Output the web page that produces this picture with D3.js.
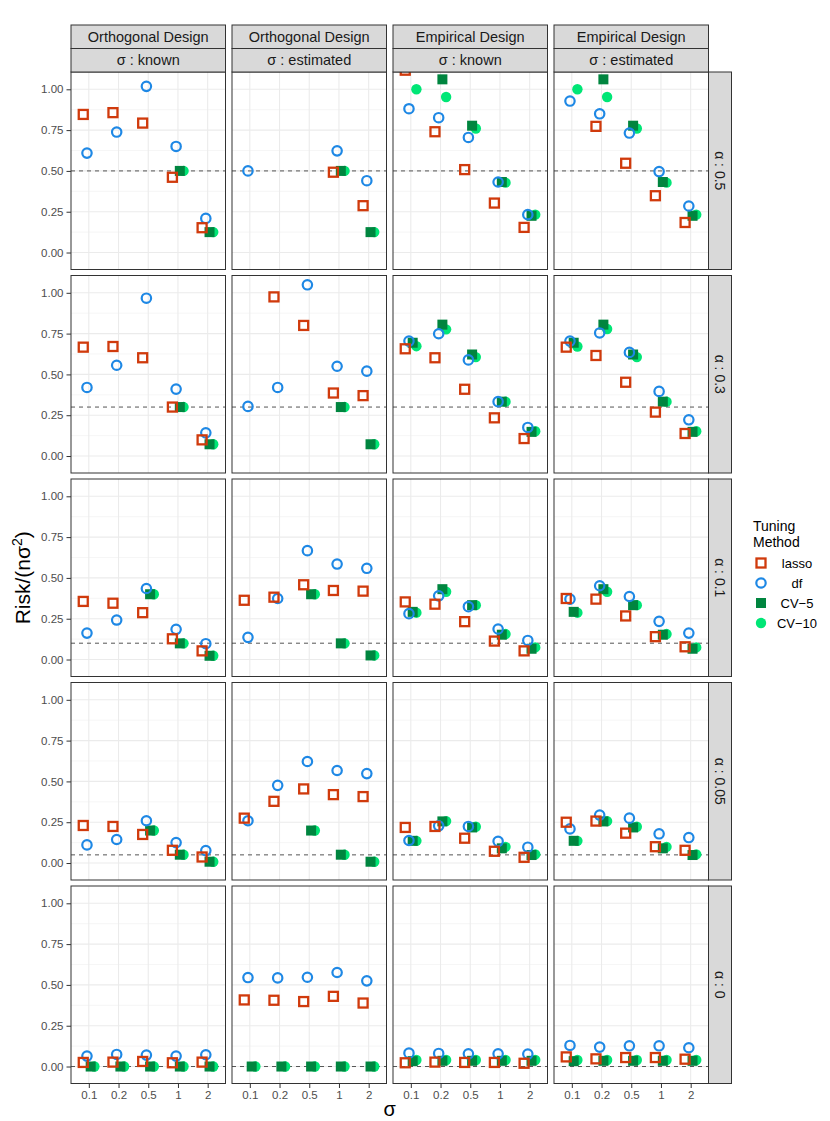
<!DOCTYPE html>
<html>
<head>
<meta charset="utf-8">
<script src="https://cdn.jsdelivr.net/npm/d3@7"></script>
<style>
  body { margin: 0; background: #fff; }
  svg { font-family: "Liberation Sans", Arial, sans-serif; }
</style>
</head>
<body>
<svg id="chart" width="830" height="1121"></svg>
<script>
// facets and categories
const sigmas = ["0.1", "0.2", "0.5", "1", "2"];
const designs = ["Orthogonal Design", "Orthogonal Design", "Empirical Design", "Empirical Design"];
const sigmaModes = ["known", "estimated", "known", "estimated"];
const alphas = [0.5, 0.3, 0.1, 0.05, 0];
const methods = ["lasso", "df", "CV-5", "CV-10"];
const yTicks = [0, 0.25, 0.5, 0.75, 1];

// risk values, one row per panel (alpha row, then 4 columns), null = off the chart
const lasso = [
  [0.846, 0.857, 0.793, 0.461, 0.152], [null, null, null, 0.492, 0.287], [1.117, 0.740, 0.508, 0.303, 0.154], [null, 0.773, 0.547, 0.348, 0.184],
  [0.667, 0.671, 0.602, 0.300, 0.099], [null, 0.975, 0.800, 0.386, 0.370], [0.657, 0.602, 0.409, 0.234, 0.107], [0.667, 0.616, 0.452, 0.269, 0.138],
  [0.356, 0.345, 0.287, 0.127, 0.053], [0.363, 0.382, 0.458, 0.423, 0.419], [0.353, 0.339, 0.232, 0.113, 0.053], [0.374, 0.370, 0.267, 0.140, 0.078],
  [0.230, 0.224, 0.175, 0.078, 0.037], [0.275, 0.378, 0.454, 0.419, 0.407], [0.218, 0.224, 0.152, 0.072, 0.035], [0.250, 0.257, 0.183, 0.100, 0.078],
  [0.025, 0.027, 0.031, 0.023, 0.027], [0.408, 0.406, 0.398, 0.430, 0.389], [0.023, 0.027, 0.025, 0.025, 0.020], [0.059, 0.047, 0.055, 0.055, 0.045]
];
const df = [
  [0.609, 0.738, 1.018, 0.650, 0.209], [0.500, null, null, 0.623, 0.440], [0.881, 0.826, 0.705, 0.432, 0.232], [0.928, 0.850, 0.732, 0.496, 0.285],
  [0.420, 0.556, 0.967, 0.410, 0.142], [0.304, 0.420, 1.049, 0.550, 0.520], [0.704, 0.749, 0.589, 0.333, 0.175], [0.704, 0.754, 0.635, 0.396, 0.222],
  [0.162, 0.242, 0.435, 0.185, 0.097], [0.136, 0.374, 0.667, 0.585, 0.559], [0.281, 0.390, 0.324, 0.187, 0.117], [0.370, 0.452, 0.386, 0.234, 0.162],
  [0.111, 0.144, 0.259, 0.125, 0.076], [0.259, 0.476, 0.622, 0.567, 0.548], [0.138, 0.228, 0.224, 0.133, 0.097], [0.209, 0.294, 0.275, 0.179, 0.156],
  [0.064, 0.074, 0.070, 0.064, 0.072], [0.545, 0.543, 0.547, 0.576, 0.525], [0.082, 0.080, 0.078, 0.078, 0.076], [0.129, 0.119, 0.127, 0.127, 0.115]
];
const cv5 = [
  [null, null, null, 0.500, 0.125], [null, null, null, 0.500, 0.125], [null, 1.061, 0.777, 0.432, 0.225], [null, 1.061, 0.777, 0.432, 0.225],
  [null, null, null, 0.300, 0.072], [null, null, null, 0.300, 0.072], [0.694, 0.805, 0.622, 0.333, 0.148], [0.694, 0.805, 0.622, 0.333, 0.148],
  [null, null, 0.400, 0.099, 0.023], [null, null, 0.400, 0.099, 0.025], [0.292, 0.431, 0.333, 0.152, 0.066], [0.292, 0.431, 0.333, 0.152, 0.066],
  [null, null, 0.199, 0.051, 0.008], [null, null, 0.199, 0.051, 0.008], [0.136, 0.255, 0.218, 0.090, 0.049], [0.136, 0.255, 0.218, 0.090, 0.049],
  [0, 0, 0, 0, 0], [0, 0, 0, 0, 0], [0.033, 0.035, 0.035, 0.035, 0.035], [0.033, 0.035, 0.035, 0.035, 0.035]
];
const cv10 = [
  [null, null, null, 0.500, 0.125], [null, null, null, 0.500, 0.125], [1.000, 0.953, 0.760, 0.428, 0.232], [1.000, 0.953, 0.760, 0.428, 0.232],
  [null, null, null, 0.300, 0.072], [null, null, null, 0.300, 0.072], [0.673, 0.776, 0.606, 0.333, 0.152], [0.671, 0.778, 0.606, 0.333, 0.152],
  [null, null, 0.400, 0.099, 0.023], [null, null, 0.400, 0.099, 0.025], [0.287, 0.415, 0.333, 0.156, 0.074], [0.287, 0.415, 0.333, 0.156, 0.074],
  [null, null, 0.199, 0.051, 0.008], [null, null, 0.199, 0.051, 0.008], [0.136, 0.257, 0.222, 0.099, 0.053], [0.136, 0.257, 0.222, 0.099, 0.053],
  [0, 0, 0, 0, 0], [0, 0, 0, 0, 0], [0.040, 0.040, 0.040, 0.040, 0.040], [0.040, 0.040, 0.040, 0.040, 0.040]
];

const series = { "lasso": lasso, "df": df, "CV-5": cv5, "CV-10": cv10 };
const colors = { "lasso": "#D03A0C", "df": "#1E88E5", "CV-5": "#00853F", "CV-10": "#00E676" };

const svg = d3.select("#chart");
const marginLeft = 71, marginTop = 72, panelW = 154.5, panelH = 197.5, colPitch = 161, rowPitch = 203.5;
const stripTop = 25, stripH = 23.5, rightStripW = 23;

const x = d3.scalePoint().domain(sigmas).range([0, panelW]).padding(0.6);
const y = d3.scaleLinear().domain([-0.104, 1.106]).range([panelH, 0]);
const dodge = d3.scalePoint().domain(methods).range([-0.1875, 0.1875]);
const minor = [0.125, 0.375, 0.625, 0.875];

function drawShape(g, method, cx, cy) {
  const c = colors[method];
  if (method === "lasso") {
    const s = 9;
    g.append("rect").attr("x", cx - s / 2).attr("y", cy - s / 2).attr("width", s).attr("height", s)
      .attr("fill", "none").attr("stroke", c).attr("stroke-width", 2.3);
  } else if (method === "df") {
    g.append("circle").attr("cx", cx).attr("cy", cy).attr("r", 4.7)
      .attr("fill", "none").attr("stroke", c).attr("stroke-width", 2.2);
  } else if (method === "CV-5") {
    const s = 10;
    g.append("rect").attr("x", cx - s / 2).attr("y", cy - s / 2).attr("width", s).attr("height", s).attr("fill", c);
  } else {
    g.append("circle").attr("cx", cx).attr("cy", cy).attr("r", 5.2).attr("fill", c);
  }
}

alphas.forEach((alpha, r) => {
  designs.forEach((design, c) => {
    const px = marginLeft + c * colPitch, py = marginTop + r * rowPitch;
    const g = svg.append("g").attr("transform", `translate(${px},${py})`);
    const id = `clip-${r}-${c}`;
    g.append("clipPath").attr("id", id).append("rect").attr("width", panelW).attr("height", panelH);

    g.append("rect").attr("width", panelW).attr("height", panelH).attr("fill", "#fff");
    g.selectAll(".minor").data(minor).join("line")
      .attr("x1", 0).attr("x2", panelW).attr("y1", d => y(d)).attr("y2", d => y(d))
      .attr("stroke", "#F0F0F0").attr("stroke-width", 0.6);
    g.selectAll(".major").data(yTicks).join("line")
      .attr("x1", 0).attr("x2", panelW).attr("y1", d => y(d)).attr("y2", d => y(d))
      .attr("stroke", "#EBEBEB").attr("stroke-width", 1.1);
    g.selectAll(".vmajor").data(sigmas).join("line")
      .attr("x1", d => x(d)).attr("x2", d => x(d)).attr("y1", 0).attr("y2", panelH)
      .attr("stroke", "#EBEBEB").attr("stroke-width", 1.1);

    g.append("line").attr("x1", 0).attr("x2", panelW).attr("y1", y(alpha)).attr("y2", y(alpha))
      .attr("stroke", "#555").attr("stroke-width", 1).attr("stroke-dasharray", "4,4");

    const pts = g.append("g").attr("clip-path", `url(#${id})`);
    const idx = r * 4 + c;
    // later methods are drawn underneath
    methods.slice().reverse().forEach(m => {
      series[m][idx].forEach((v, i) => {
        if (v === null) return;
        drawShape(pts, m, x(sigmas[i]) + dodge(m) * x.step(), y(v));
      });
    });

    g.append("rect").attr("width", panelW).attr("height", panelH)
      .attr("fill", "none").attr("stroke", "#333").attr("stroke-width", 1);

    if (c === 0) {
      const ax = g.append("g").call(d3.axisLeft(y).tickValues(yTicks).tickFormat(d3.format(".2f")).tickSize(4.5).tickPadding(3));
      ax.select(".domain").remove();
      ax.selectAll("line").attr("stroke", "#333");
      ax.selectAll("text").attr("fill", "#4D4D4D").style("font-size", "11.5px").style("font-family", "Liberation Sans, Arial, sans-serif");
    }
    if (r === alphas.length - 1) {
      const ax = g.append("g").attr("transform", `translate(0,${panelH})`)
        .call(d3.axisBottom(x).tickSize(4.5).tickPadding(3));
      ax.select(".domain").remove();
      ax.selectAll("line").attr("stroke", "#333");
      ax.selectAll("text").attr("fill", "#4D4D4D").style("font-size", "11.5px").style("font-family", "Liberation Sans, Arial, sans-serif");
    }
    if (r === 0) {
      [design, "σ : " + sigmaModes[c]].forEach((t, k) => {
        const sy = stripTop + k * stripH - py;
        g.append("rect").attr("x", 0).attr("y", sy).attr("width", panelW).attr("height", stripH)
          .attr("fill", "#D9D9D9").attr("stroke", "#333").attr("stroke-width", 1);
        g.append("text").attr("x", panelW / 2).attr("y", sy + stripH / 2).attr("dy", "0.35em")
          .attr("text-anchor", "middle").attr("fill", "#1A1A1A").style("font-size", "14.5px").text(t);
      });
    }
    if (c === designs.length - 1) {
      g.append("rect").attr("x", panelW).attr("y", 0).attr("width", rightStripW).attr("height", panelH)
        .attr("fill", "#D9D9D9").attr("stroke", "#333").attr("stroke-width", 1);
      g.append("text").attr("transform", `translate(${panelW + rightStripW / 2},${panelH / 2}) rotate(90)`)
        .attr("dy", "0.35em").attr("text-anchor", "middle").attr("fill", "#1A1A1A")
        .style("font-size", "14px").text("α : " + alpha);
    }
  });
});

// axis titles
const yt = svg.append("text").attr("transform", `translate(30,${marginTop + (4 * rowPitch + panelH) / 2}) rotate(-90)`)
  .attr("text-anchor", "middle").style("font-size", "21px").attr("fill", "#000");
yt.append("tspan").text("Risk/(nσ");
yt.append("tspan").attr("baseline-shift", "super").style("font-size", "14px").text("2");
yt.append("tspan").text(")");

svg.append("text").attr("x", marginLeft + (3 * colPitch + panelW) / 2).attr("y", 1116)
  .attr("text-anchor", "middle").style("font-size", "20px").attr("fill", "#000").text("σ");

// legend
const lg = svg.append("g");
lg.append("text").attr("x", 753).attr("y", 531).style("font-size", "14px").attr("fill", "#000").text("Tuning");
lg.append("text").attr("x", 753).attr("y", 547).style("font-size", "14px").attr("fill", "#000").text("Method");
methods.forEach((m, i) => {
  const ky = 563 + i * 20;
  drawShape(lg, m, 761, ky);
  lg.append("text").attr("x", 797).attr("y", ky).attr("dy", "0.35em").attr("text-anchor", "middle")
    .style("font-size", "13px").attr("fill", "#000").text(m.replace("-", "−"));
});
</script>
</body>
</html>
